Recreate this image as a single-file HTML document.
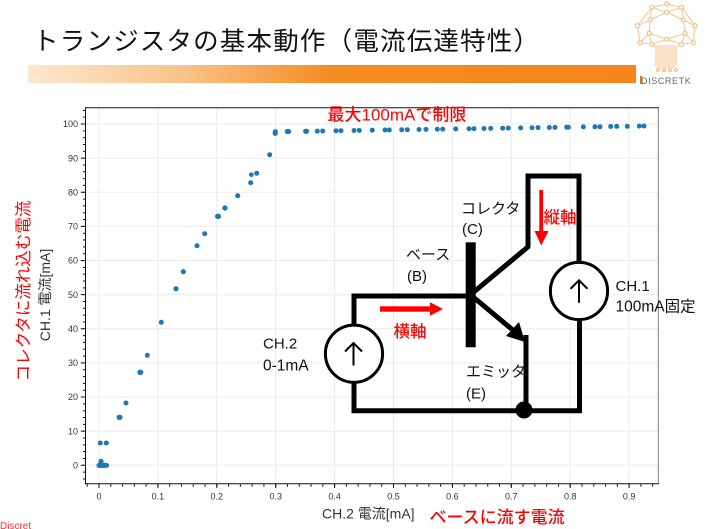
<!DOCTYPE html>
<html>
<head>
<meta charset="utf-8">
<style>
  html,body{margin:0;padding:0;background:#fff;}
  body{width:709px;height:529px;overflow:hidden;position:relative;}
  svg{position:absolute;left:0;top:0;}
  text{font-family:"Liberation Sans","Noto Sans CJK JP",sans-serif;}
</style>
</head>
<body>
<svg width="709" height="529" viewBox="0 0 709 529" xmlns="http://www.w3.org/2000/svg">
  <defs>
    <linearGradient id="bar" x1="0" y1="0" x2="1" y2="0">
      <stop offset="0" stop-color="#fde7cf"/>
      <stop offset="0.25" stop-color="#f9c48a"/>
      <stop offset="0.5" stop-color="#f58c22"/>
      <stop offset="1" stop-color="#f5861a"/>
    </linearGradient>
  </defs>

  <!-- Title -->
  <text x="33" y="50" font-size="25.5" fill="#111" textLength="506" lengthAdjust="spacing">トランジスタの基本動作（電流伝達特性）</text>
  <rect x="28" y="65" width="608" height="18" fill="url(#bar)"/>

  <!-- Logo -->
  <g stroke="#f8c28a" stroke-width="1" fill="none">
    <polygon points="666.7,4 681.7,7.3 695,25.7 693.3,42.7 681.7,44.3 666.7,39.3 651.7,44.3 640,42.7 637.3,25.7 651.7,7.3"/>
    <polyline points="651.7,7.3 666.7,12.3 681.7,7.3"/>
    <polyline points="650,20 666.7,12.3 683.3,20"/>
    <polyline points="637.3,25.7 650,20 649.3,33.3 640,42.7"/>
    <polyline points="695,25.7 683.3,20 685,33.3 693.3,42.7"/>
    <polyline points="649.3,33.3 666.7,39.3 685,33.3"/>
    <line x1="651.7" y1="7.3" x2="650" y2="20"/>
    <line x1="681.7" y1="7.3" x2="683.3" y2="20"/>
    <line x1="649.3" y1="33.3" x2="651.7" y2="44.3"/>
    <line x1="685" y1="33.3" x2="681.7" y2="44.3"/>
    <line x1="651" y1="46" x2="682" y2="46"/>
    <path d="M656 47V66M658 47V68M660 47V68M662 47V68M664 47V68M666 47V68M668 47V68M670 47V68M672 47V68M674 47V68M676 47V66"/>
  </g>
  <g fill="#fff" stroke="#f7b56e" stroke-width="1">
    <circle cx="666.7" cy="4" r="2"/><circle cx="681.7" cy="7.3" r="2"/><circle cx="651.7" cy="7.3" r="2"/>
    <circle cx="666.7" cy="12.3" r="2"/><circle cx="650" cy="20" r="2"/><circle cx="683.3" cy="20" r="2"/>
    <circle cx="637.3" cy="25.7" r="2"/><circle cx="695" cy="25.7" r="2"/><circle cx="649.3" cy="33.3" r="2"/>
    <circle cx="685" cy="33.3" r="2"/><circle cx="640" cy="42.7" r="2"/><circle cx="693.3" cy="42.7" r="2"/>
    <circle cx="651.7" cy="44.3" r="2"/><circle cx="681.7" cy="44.3" r="2"/><circle cx="666.7" cy="39.3" r="2"/>
    <circle cx="658" cy="70" r="1.5"/><circle cx="664" cy="70" r="1.5"/><circle cx="670" cy="70" r="1.5"/><circle cx="676" cy="70" r="1.5"/>
  </g>
  <rect x="640" y="76" width="2" height="8" fill="#e07a10"/>
  <text x="641" y="84" font-size="9" fill="#666" letter-spacing="0.6">DISCRETK</text>

  <!-- Gridlines -->
  <g stroke="#ebebeb" stroke-width="1">
    <line x1="99" y1="108" x2="99" y2="484"/>
    <line x1="157.9" y1="108" x2="157.9" y2="484"/>
    <line x1="216.8" y1="108" x2="216.8" y2="484"/>
    <line x1="275.7" y1="108" x2="275.7" y2="484"/>
    <line x1="334.6" y1="108" x2="334.6" y2="484"/>
    <line x1="393.5" y1="108" x2="393.5" y2="484"/>
    <line x1="452.4" y1="108" x2="452.4" y2="484"/>
    <line x1="511.3" y1="108" x2="511.3" y2="484"/>
    <line x1="570.2" y1="108" x2="570.2" y2="484"/>
    <line x1="629.1" y1="108" x2="629.1" y2="484"/>
    <line x1="86" y1="465.3" x2="658" y2="465.3"/>
    <line x1="86" y1="431.2" x2="658" y2="431.2"/>
    <line x1="86" y1="397.0" x2="658" y2="397.0"/>
    <line x1="86" y1="362.9" x2="658" y2="362.9"/>
    <line x1="86" y1="328.8" x2="658" y2="328.8"/>
    <line x1="86" y1="294.7" x2="658" y2="294.7"/>
    <line x1="86" y1="260.5" x2="658" y2="260.5"/>
    <line x1="86" y1="226.4" x2="658" y2="226.4"/>
    <line x1="86" y1="192.3" x2="658" y2="192.3"/>
    <line x1="86" y1="158.1" x2="658" y2="158.1"/>
    <line x1="86" y1="124.0" x2="658" y2="124.0"/>
  </g>

  <!-- Axes frame -->
  <line x1="658.3" y1="107.7" x2="658.3" y2="484" stroke="#808080" stroke-width="1"/>
  <line x1="85" y1="107.7" x2="658.8" y2="107.7" stroke="#111" stroke-width="1"/>
  <line x1="85.5" y1="107.2" x2="85.5" y2="484.3" stroke="#111" stroke-width="1"/>
  <line x1="85" y1="483.8" x2="658.8" y2="483.8" stroke="#111" stroke-width="1"/>

  <!-- Ticks -->
  <line x1="84" y1="109.85" x2="84" y2="483" stroke="#111" stroke-width="2" stroke-dasharray="1 5.826"/>
  <line x1="82.5" y1="123.5" x2="82.5" y2="466" stroke="#111" stroke-width="3.5" stroke-dasharray="1 33.13"/>
  <line x1="86.72" y1="485.5" x2="655" y2="485.5" stroke="#111" stroke-width="2.5" stroke-dasharray="1 10.78"/>
  <line x1="98.5" y1="486" x2="631" y2="486" stroke="#111" stroke-width="4" stroke-dasharray="1 57.9"/>

  <!-- Tick labels -->
  <g font-size="9" fill="#333" text-anchor="end">
    <text x="78" y="468.5">0</text>
    <text x="78" y="434.4">10</text>
    <text x="78" y="400.2">20</text>
    <text x="78" y="366.1">30</text>
    <text x="78" y="332.0">40</text>
    <text x="78" y="297.9">50</text>
    <text x="78" y="263.7">60</text>
    <text x="78" y="229.6">70</text>
    <text x="78" y="195.5">80</text>
    <text x="78" y="161.3">90</text>
    <text x="78" y="127.2">100</text>
  </g>
  <g font-size="9" fill="#333" text-anchor="middle">
    <text x="99" y="499.5">0</text>
    <text x="157.9" y="499.5">0.1</text>
    <text x="216.8" y="499.5">0.2</text>
    <text x="275.7" y="499.5">0.3</text>
    <text x="334.6" y="499.5">0.4</text>
    <text x="393.5" y="499.5">0.5</text>
    <text x="452.4" y="499.5">0.6</text>
    <text x="511.3" y="499.5">0.7</text>
    <text x="570.2" y="499.5">0.8</text>
    <text x="629.1" y="499.5">0.9</text>
  </g>

  <!-- Axis titles -->
  <text x="322" y="518.5" font-size="14" fill="#333">CH.2 電流[mA]</text>
  <text x="429.5" y="523" font-size="17" fill="#f00" font-weight="500">ベースに流す電流</text>
  <text transform="translate(50,295) rotate(-90)" text-anchor="middle" font-size="14" fill="#333">CH.1 電流[mA]</text>
  <text transform="translate(29,291) rotate(-90)" text-anchor="middle" font-size="16.5" fill="#f00">コレクタに流れ込む電流</text>

  <!-- Data points -->
  <g fill="#1f77b4">
    <circle cx="99" cy="465.3" r="2.6"/><circle cx="100.5" cy="465.3" r="2.6"/><circle cx="102" cy="465.3" r="2.6"/>
    <circle cx="103.5" cy="465.3" r="2.6"/><circle cx="105" cy="465.3" r="2.6"/><circle cx="106.5" cy="465.3" r="2.6"/>
    <circle cx="101" cy="461.3" r="2.6"/>
    <circle cx="100.3" cy="443" r="2.5"/><circle cx="106.3" cy="443" r="2.5"/>
    <circle cx="119.3" cy="417.3" r="2.7"/><circle cx="120" cy="417.3" r="2.6"/>
    <circle cx="126" cy="403" r="2.5"/>
    <circle cx="140" cy="372.3" r="2.7"/><circle cx="140.8" cy="372.3" r="2.6"/>
    <circle cx="147.3" cy="355.3" r="2.5"/>
    <circle cx="161.3" cy="322.3" r="2.5"/>
    <circle cx="176" cy="288.7" r="2.6"/>
    <circle cx="183.3" cy="271.7" r="2.6"/>
    <circle cx="197" cy="245.7" r="2.5"/>
    <circle cx="204.7" cy="233.7" r="2.5"/>
    <circle cx="217.7" cy="216.3" r="2.7"/><circle cx="218.5" cy="216.3" r="2.6"/>
    <circle cx="225" cy="208" r="2.7"/>
    <circle cx="237.7" cy="195.7" r="2.6"/>
    <circle cx="250.7" cy="182.7" r="2.5"/>
    <circle cx="251.3" cy="174.7" r="2.3"/>
    <circle cx="256.7" cy="173.3" r="2.5"/>
    <circle cx="269.7" cy="154.7" r="2.5"/>
    <circle cx="275.3" cy="131.7" r="2.6"/><circle cx="275.3" cy="133.3" r="2.6"/>
    <circle cx="287.3" cy="131.5" r="2.6"/><circle cx="288.5" cy="131.5" r="2.6"/>
    <circle cx="305.7" cy="131.3" r="2.6"/><circle cx="306.5" cy="131.3" r="2.6"/>
    <circle cx="317.3" cy="131.1" r="2.5"/>
    <circle cx="322.7" cy="131.0" r="2.5"/>
    <circle cx="336" cy="130.8" r="2.5"/><circle cx="341" cy="130.7" r="2.5"/>
    <circle cx="354" cy="130.5" r="2.5"/><circle cx="359.3" cy="130.4" r="2.5"/>
    <circle cx="372.3" cy="130.2" r="2.5"/>
    <circle cx="385" cy="130.0" r="2.5"/><circle cx="389.3" cy="130.0" r="2.5"/>
    <circle cx="401.7" cy="129.8" r="2.5"/><circle cx="407.3" cy="129.7" r="2.5"/>
    <circle cx="419" cy="129.5" r="2.5"/><circle cx="426" cy="129.4" r="2.5"/>
    <circle cx="437.3" cy="129.2" r="2.5"/><circle cx="442.7" cy="129.1" r="2.5"/>
    <circle cx="455.7" cy="128.9" r="2.5"/>
    <circle cx="469" cy="128.7" r="2.5"/><circle cx="474" cy="128.6" r="2.5"/>
    <circle cx="484" cy="128.5" r="2.5"/><circle cx="490.7" cy="128.4" r="2.5"/>
    <circle cx="502.7" cy="128.2" r="2.5"/><circle cx="508.3" cy="128.1" r="2.5"/>
    <circle cx="520.7" cy="127.9" r="2.5"/>
    <circle cx="532" cy="127.7" r="2.5"/><circle cx="538" cy="127.6" r="2.5"/>
    <circle cx="549.3" cy="127.5" r="2.5"/><circle cx="555" cy="127.4" r="2.5"/>
    <circle cx="566.7" cy="127.2" r="2.5"/><circle cx="568.3" cy="127.2" r="2.5"/>
    <circle cx="583.3" cy="126.9" r="2.5"/>
    <circle cx="595" cy="126.8" r="2.5"/><circle cx="600" cy="126.7" r="2.5"/>
    <circle cx="610.7" cy="126.5" r="2.5"/><circle cx="616.7" cy="126.4" r="2.5"/>
    <circle cx="627.3" cy="126.3" r="2.5"/>
    <circle cx="639.3" cy="126.1" r="2.5"/><circle cx="644" cy="126.0" r="2.5"/>
  </g>

  <!-- Annotation -->
  <text x="327.5" y="120.5" font-size="17" fill="#f00" font-weight="500">最大100mAで制限</text>

  <!-- Circuit diagram -->
  <g stroke="#000" fill="none" stroke-width="5">
    <polyline points="528,247 528,176 579,176 579,262" stroke-linejoin="miter"/>
    <line x1="529" y1="246" x2="469" y2="296"/>
    <polyline points="466,296 354,296 354,324"/>
    <polyline points="354,383 354,410.7 581.5,410.7"/>
    <line x1="579.5" y1="320" x2="579.5" y2="413"/>
    <line x1="526" y1="335" x2="526" y2="411"/>
    <line x1="472" y1="296" x2="514" y2="331"/>
  </g>
  <rect x="465.7" y="242.3" width="10" height="105" fill="#000"/>
  <polygon points="525,342 506,336 519,322" fill="#000"/>
  <circle cx="524" cy="410" r="8.5" fill="#000"/>
  <circle cx="354" cy="353.7" r="28.6" fill="#fff" stroke="#000" stroke-width="3"/>
  <circle cx="579" cy="291" r="28.6" fill="#fff" stroke="#000" stroke-width="3"/>
  <g stroke="#000" stroke-width="2" fill="none">
    <line x1="353.5" y1="343" x2="353.5" y2="365.5"/>
    <polyline points="345,351.5 353.5,343 362,351.5"/>
    <line x1="579" y1="280.3" x2="579" y2="302.8"/>
    <polyline points="570.5,288.8 579,280.3 587.5,288.8"/>
  </g>

  <!-- Red arrows -->
  <rect x="539.3" y="190" width="3.8" height="42" fill="#f00"/>
  <polygon points="534.5,231 548.5,231 541.3,245.5" fill="#f00"/>
  <rect x="380" y="306.3" width="51" height="5.4" fill="#f00"/>
  <polygon points="430,302.3 430,315.7 443,309" fill="#f00"/>

  <!-- Diagram labels -->
  <g font-size="15" fill="#111">
    <text x="461" y="213.5">コレクタ</text>
    <text x="462" y="234">(C)</text>
    <text x="406" y="259.5">ベース</text>
    <text x="407" y="281">(B)</text>
    <text x="615.5" y="291">CH.1</text>
    <text x="615.5" y="311.5" font-size="15.5">100mA固定</text>
    <text x="263" y="348.7">CH.2</text>
    <text x="263" y="370.5" font-size="15.5">0-1mA</text>
    <text x="466" y="376.3">エミッタ</text>
    <text x="466" y="398.5">(E)</text>
  </g>
  <text x="543.5" y="223" font-size="16.5" fill="#f00" font-weight="500">縦軸</text>
  <text x="393.5" y="337" font-size="16.5" fill="#f00" font-weight="500">横軸</text>

  <!-- Footer -->
  <text x="0" y="529" font-size="10" fill="#f33">Discret</text>
</svg>
</body>
</html>
